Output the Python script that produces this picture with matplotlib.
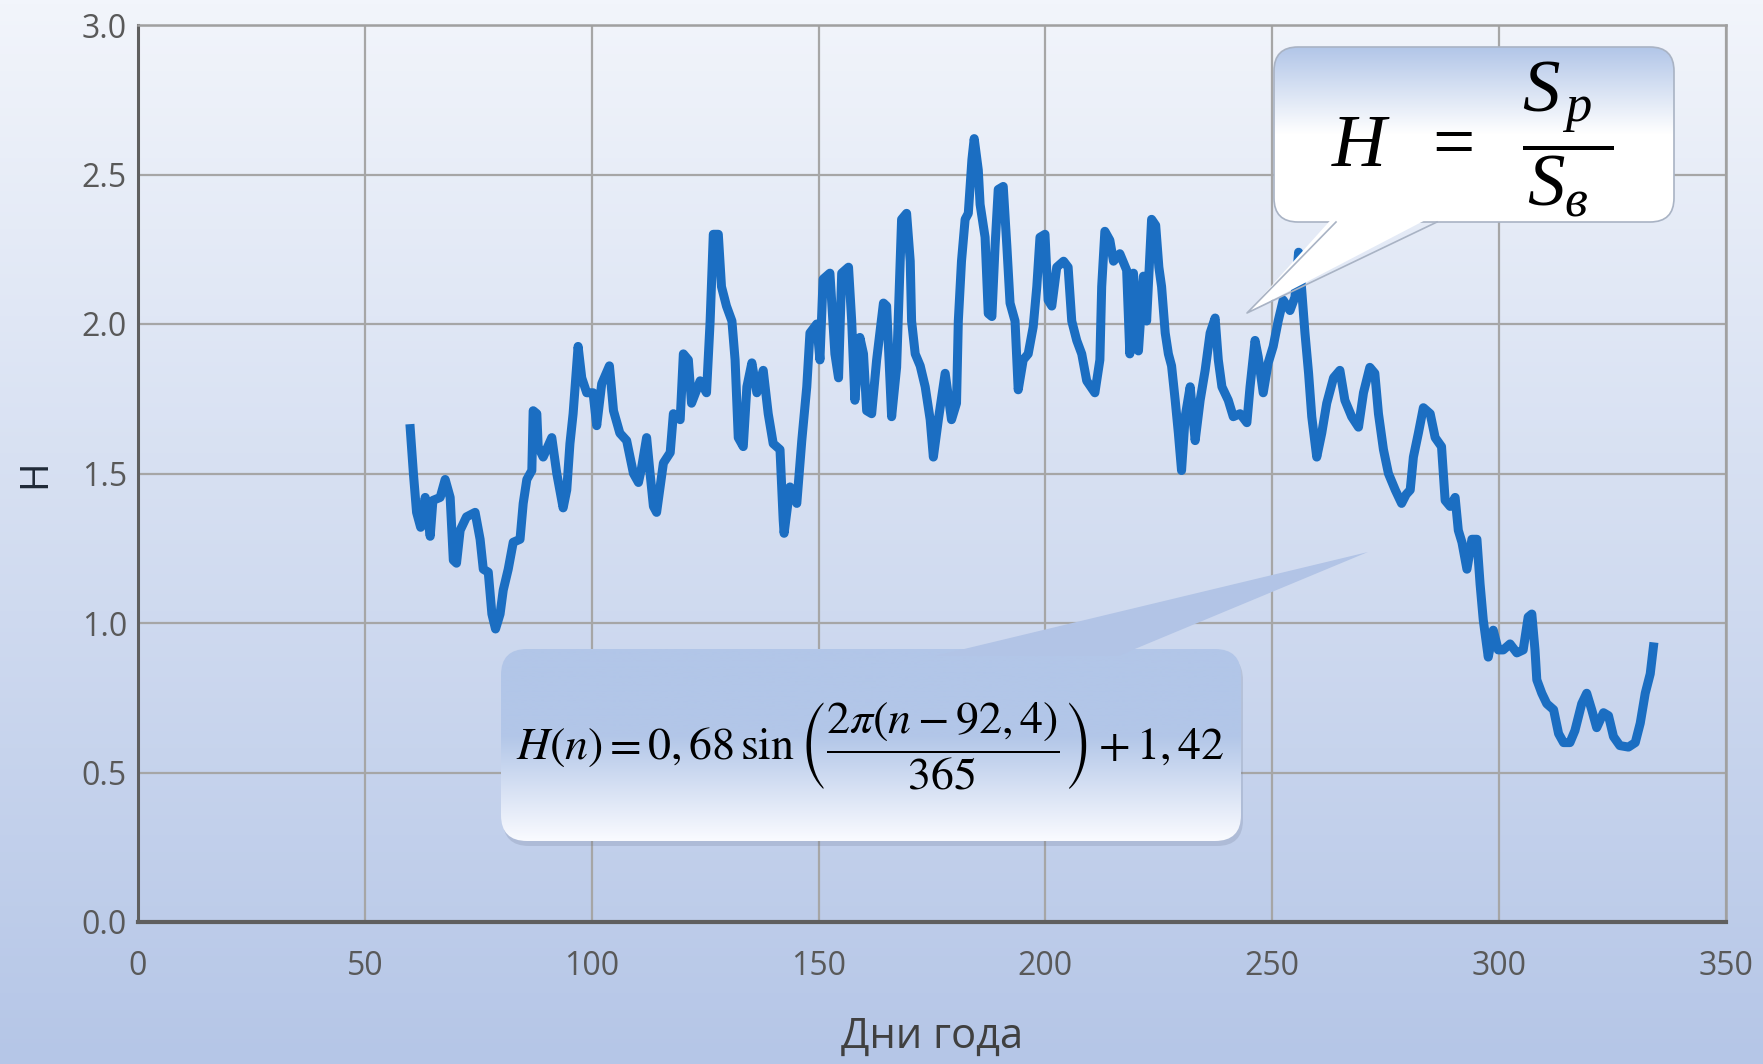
import numpy as np
import matplotlib.pyplot as plt
from matplotlib.patches import FancyBboxPatch, Polygon

plt.rcParams['font.family'] = ['Open Sans', 'DejaVu Sans']
plt.rcParams['mathtext.fontset'] = 'custom'
plt.rcParams['mathtext.rm'] = 'Liberation Serif'
plt.rcParams['mathtext.it'] = 'Liberation Serif:italic'
plt.rcParams['mathtext.bf'] = 'Liberation Serif:bold'

# day of year and H
days = [60.0, 60.7, 61.4, 62.3, 63.3, 64.4, 65.0, 66.6, 67.7, 68.8, 69.5, 70.2,
        71.0, 72.4, 74.3, 75.4, 76.1, 77.2, 78.0, 78.8, 79.8, 80.5, 81.6, 82.7,
        84.2, 84.9, 85.7, 86.8, 87.1, 87.9, 88.2, 89.3, 91.2, 92.3, 93.7, 94.5,
        95.2, 95.9, 97.0, 97.8, 98.9, 100.3, 101.1, 102.2, 103.9, 104.8, 106.2,
        107.7, 109.2, 110.3, 111.0, 112.1, 112.8, 113.6, 114.3, 115.8, 117.3,
        118.0, 119.5, 120.2, 121.3, 122.0, 123.9, 125.3, 126.1, 126.8, 127.9,
        128.6, 129.7, 130.9, 131.6, 132.3, 133.4, 134.2, 135.3, 136.4, 137.8,
        138.9, 140.0, 141.5, 142.2, 142.4, 143.7, 145.2, 146.3, 147.4, 148.1,
        149.6, 150.3, 151.0, 152.5, 153.6, 154.4, 155.1, 156.6, 157.3, 158.0,
        159.1, 159.9, 160.6, 161.7, 162.8, 164.3, 165.0, 166.1, 167.2, 168.3,
        169.4, 170.2, 170.5, 171.3, 172.4, 173.5, 174.6, 175.3, 176.4, 177.9,
        179.3, 180.4, 180.8, 181.5, 182.3, 183.0, 183.8, 184.3, 185.2, 185.6,
        186.7, 187.4, 188.2, 188.9, 189.6, 190.7, 191.5, 192.2, 193.3, 194.0,
        195.1, 196.2, 197.3, 198.1, 198.8, 199.9, 200.6, 201.4, 202.5, 204.0,
        205.0, 205.8, 206.9, 208.0, 209.1, 210.9, 212.0, 212.4, 213.1, 214.2,
        215.0, 216.4, 217.9, 218.6, 219.4, 220.5, 221.6, 222.3, 223.4, 224.3,
        225.0, 225.6, 226.4, 227.1, 227.8, 228.6, 229.3, 230.0, 230.8, 231.9,
        233.0, 234.1, 235.2, 236.3, 237.4, 238.1, 238.9, 240.3, 241.4, 242.9,
        244.4, 245.1, 246.2, 246.9, 248.0, 249.1, 250.2, 251.3, 252.4, 253.9,
        255.0, 255.8, 256.5, 257.2, 258.0, 258.7, 259.8, 260.9, 262.0, 263.5,
        264.9, 266.0, 267.5, 269.0, 270.1, 271.5, 272.6, 273.4, 274.5, 275.6,
        277.1, 278.5, 279.5, 280.4, 281.1, 282.2, 283.3, 284.8, 285.9, 287.3,
        288.1, 289.2, 290.3, 291.0, 291.8, 292.9, 294.0, 295.1, 295.8, 296.5,
        297.6, 298.7, 299.8, 300.9, 302.4, 303.9, 305.3, 306.4, 307.2, 307.9,
        308.3, 309.4, 310.5, 312.0, 313.1, 314.2, 315.6, 316.7, 318.2, 319.3,
        320.4, 321.5, 323.0, 324.1, 325.2, 326.6, 328.5, 330.0, 331.1, 332.2,
        333.3, 334.0]
h_vals = [1.65, 1.50, 1.37, 1.32, 1.42, 1.29, 1.41, 1.42, 1.48, 1.42, 1.21, 1.20,
          1.31, 1.355, 1.37, 1.28, 1.18, 1.17, 1.03, 0.98, 1.03, 1.11, 1.18, 1.27,
          1.28, 1.40, 1.48, 1.51, 1.71, 1.70, 1.59, 1.555, 1.62, 1.50, 1.385, 1.445,
          1.60, 1.70, 1.925, 1.82, 1.77, 1.77, 1.66, 1.80, 1.86, 1.71, 1.635,
          1.61, 1.50, 1.47, 1.52, 1.62, 1.51, 1.39, 1.37, 1.535, 1.57,
          1.70, 1.68, 1.90, 1.88, 1.735, 1.81, 1.77, 2.01, 2.30, 2.30,
          2.125, 2.06, 2.01, 1.88, 1.62, 1.59, 1.79, 1.87, 1.77, 1.845,
          1.70, 1.60, 1.58, 1.345, 1.30, 1.455, 1.40, 1.61, 1.79, 1.97,
          2.00, 1.88, 2.15, 2.17, 1.90, 1.82, 2.17, 2.19, 2.01, 1.745,
          1.955, 1.90, 1.71, 1.70, 1.88, 2.07, 2.06, 1.69, 1.855, 2.35,
          2.37, 2.21, 2.01, 1.90, 1.86, 1.79, 1.68, 1.555, 1.68, 1.835,
          1.68, 1.735, 2.01, 2.21, 2.35, 2.37, 2.55, 2.62, 2.515, 2.40,
          2.29, 2.035, 2.025, 2.26, 2.45, 2.46, 2.26, 2.07, 2.01, 1.78,
          1.88, 1.90, 1.99, 2.125, 2.29, 2.30, 2.08, 2.06, 2.19, 2.21,
          2.19, 2.01, 1.945, 1.90, 1.81, 1.77, 1.88, 2.125, 2.31, 2.28,
          2.21, 2.235, 2.18, 1.90, 2.17, 1.91, 2.16, 2.01, 2.35, 2.33,
          2.19, 2.125, 1.97, 1.90, 1.86, 1.745, 1.635, 1.51, 1.69, 1.79,
          1.61, 1.745, 1.845, 1.97, 2.02, 1.88, 1.79, 1.745, 1.69, 1.70,
          1.67, 1.79, 1.945, 1.89, 1.77, 1.87, 1.925, 2.01, 2.08, 2.045,
          2.09, 2.24, 2.11, 1.97, 1.835, 1.69, 1.555, 1.635, 1.735, 1.82,
          1.845, 1.745, 1.69, 1.655, 1.77, 1.855, 1.835, 1.70, 1.58, 1.50,
          1.445, 1.40, 1.43, 1.445, 1.555, 1.635, 1.72, 1.70, 1.62, 1.59,
          1.41, 1.39, 1.42, 1.31, 1.27, 1.18, 1.28, 1.28, 1.13, 1.01,
          0.886, 0.976, 0.91, 0.91, 0.93, 0.90, 0.91, 1.02, 1.03, 0.91,
          0.81, 0.765, 0.73, 0.71, 0.63, 0.60, 0.60, 0.64, 0.73, 0.765,
          0.71, 0.65, 0.70, 0.69, 0.62, 0.59, 0.585, 0.60, 0.665, 0.765,
          0.83, 0.92]

x_ticks = [0, 50, 100, 150, 200, 250, 300, 350]
y_ticks = [0.0, 0.5, 1.0, 1.5, 2.0, 2.5, 3.0]
x_label = 'Дни года'
y_label = 'H'
formula_ratio = r'$H\ \ =\ \ \dfrac{S_{\,p}\ }{S_{в}\ }$'
formula_fit = r'$H(n)=0,68\,\sin\left(\dfrac{2\pi(n-92,4)}{365}\right)+1,42$'

W, H = 1763, 1064
fig = plt.figure(figsize=(W / 100, H / 100), dpi=100)

# page background: light blue vertical gradient
bg = fig.add_axes([0, 0, 1, 1], zorder=0)
c_top = np.array([242, 245, 251]) / 255
c_bot = np.array([181, 198, 231]) / 255
t = np.linspace(0, 1, 256)[:, None, None]
bg.imshow(c_top + (c_bot - c_top) * t, aspect='auto', extent=(0, 1, 0, 1))
bg.axis('off')

ax = fig.add_axes([138 / W, 1 - 922 / H, 1588 / W, 897 / H], zorder=1)
ax.set_facecolor('none')
ax.plot(days, h_vals, color='#1b6ec2', lw=6.5, zorder=3)
ax.set_xlim(0, 350)
ax.set_ylim(0, 3)
ax.set_xticks(x_ticks)
ax.set_yticks(y_ticks)
ax.grid(True, color='#a6a6a6', lw=1.6)
ax.set_axisbelow(True)
ax.tick_params(length=0, labelsize=23, labelcolor='#595959')
ax.tick_params(axis='x', pad=20)
ax.tick_params(axis='y', pad=8)
for s in ['top', 'right']:
    ax.spines[s].set_color('#a0a0a0')
    ax.spines[s].set_linewidth(1.8)
ax.spines['left'].set_color('#5f5f5f')
ax.spines['left'].set_linewidth(2.2)
ax.spines['bottom'].set_color('#5f5f5f')
ax.spines['bottom'].set_linewidth(3)
ax.set_xlabel(x_label, fontsize=30, color='#404040')
ax.xaxis.set_label_coords(0.5, -0.105)
ax.set_ylabel(y_label, fontsize=28, color='#1f2937')
ax.yaxis.set_label_coords(-0.065, 0.5)
ax.yaxis.label.set_verticalalignment('center')

# overlay in pixel coordinates for the two callouts
ov = fig.add_axes([0, 0, 1, 1], zorder=2)
ov.set_xlim(0, W)
ov.set_ylim(H, 0)
ov.axis('off')

def gradient(c1, c2, start, n=200):
    tt = np.linspace(0, 1, n)
    k = np.clip((tt - start) / (1 - start), 0, 1)
    return (c1 + (c2 - c1) * k[:, None])[:, None, :]

white = np.array([1.0, 1.0, 1.0])
blue = np.array([178, 198, 232]) / 255

# callout 1: H = Sp / Sв
box1 = FancyBboxPatch((1274, 47), 400, 175, boxstyle='round,pad=0,rounding_size=24',
                      fc='none', ec='#a9b3c4', lw=1.2, zorder=3)
ov.add_patch(box1)
g1 = np.concatenate([gradient(blue, white, 0.0, 100), np.ones((100, 1, 3))])
im1 = ov.imshow(g1, extent=(1274, 1674, 222, 47), aspect='auto', zorder=2.5)
im1.set_clip_path(box1)
ov.add_patch(Polygon([(1336, 214), (1247, 313), (1437, 214)], fc='white', ec='none', zorder=4))
ov.plot([1336, 1247, 1437], [222, 313, 222], color='#a9b3c4', lw=1.2, zorder=4)
ov.text(1472, 139, formula_ratio, fontsize=54, ha='center', va='center', color='black', zorder=5)

# callout 2: fitted sine
ov.add_patch(FancyBboxPatch((503, 654), 740, 192, boxstyle='round,pad=0,rounding_size=26',
                            fc='#6c7890', ec='none', alpha=0.22, zorder=2.3))
box2 = FancyBboxPatch((501, 649), 740, 192, boxstyle='round,pad=0,rounding_size=26',
                      fc='none', ec='none', zorder=3)
ov.add_patch(box2)
g2 = gradient(blue, np.array([250, 251, 255]) / 255, 0.45)
im2 = ov.imshow(g2, extent=(501, 1241, 841, 649), aspect='auto', zorder=2.5)
im2.set_clip_path(box2)
ov.add_patch(Polygon([(935, 656), (1368, 552), (1118, 656)], fc='#b2c4e6', ec='none', zorder=2.6))
ov.text(870, 746, formula_fit, fontsize=33, ha='center', va='center', color='black',
        math_fontfamily='stix', zorder=5)

fig.savefig('out.png', dpi=100)
